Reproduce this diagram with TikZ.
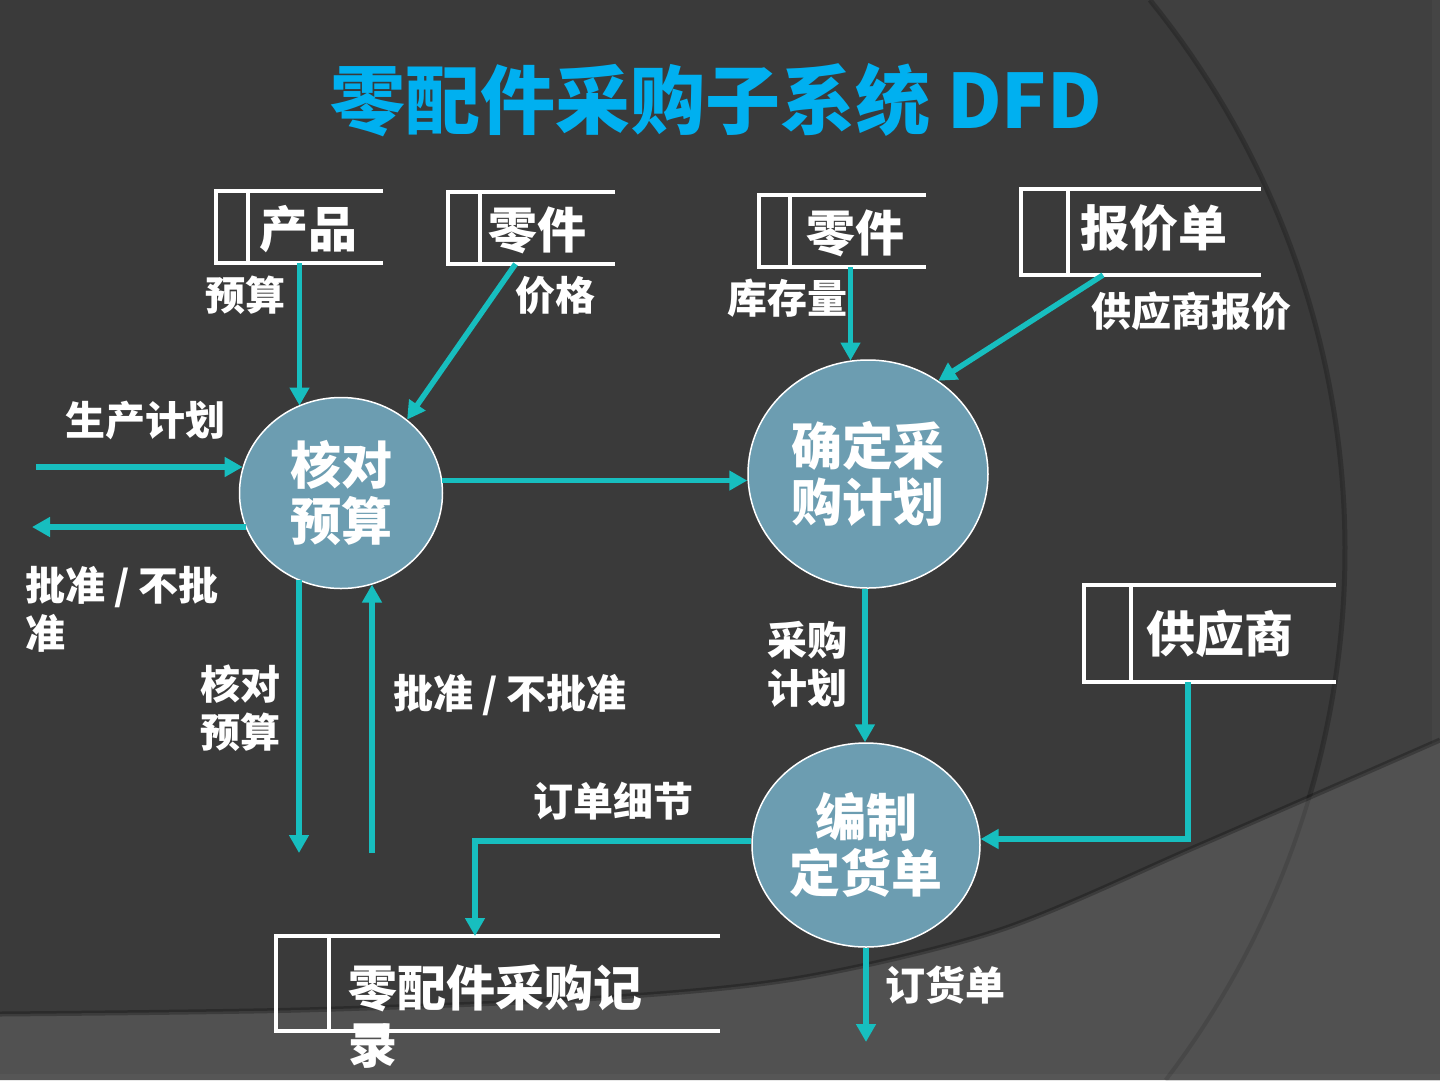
\documentclass[tikz,border=0pt]{standalone}
\usepackage{fontspec}
\setmainfont{Noto Sans CJK SC}
\usetikzlibrary{arrows.meta,shapes.geometric,calc}
\definecolor{bgc}{HTML}{3A3A3A}
\definecolor{bgright}{HTML}{404040}
\definecolor{bandc}{HTML}{515151}
\definecolor{titlec}{HTML}{00B0F0}
\definecolor{flowc}{HTML}{17BEBF}
\definecolor{procc}{HTML}{6C9DB1}
\newcommand\bandpts{(0,1014) (300,1010) (600,998) (800,978) (1000,930) (1200,845) (1440,740)}
\newcommand\dstore[6]{%
  \node[inner sep=0pt, outer sep=0pt, minimum width={#4-#2}, minimum height={#5-#3}] (#1) at ({(#2+#4)/2},{(#3+#5)/2}) {};
  \draw[storeline] (#1.north east) -- (#1.north west) -- (#1.south west) -- (#1.south east);
  \draw[storeline] ([xshift=#6]#1.north west) -- ([xshift=#6]#1.south west);}
\begin{document}
\begin{tikzpicture}[x=1pt,y=-1pt,
  flow/.style={draw=flowc, line width=5.5pt, -{Triangle[length=18pt,width=19pt]}},
  storeline/.style={draw=white, line width=3.8pt},
  proc/.style={ellipse, fill=procc, draw=white, line width=1.5pt, inner sep=0pt, text=white,
     font=\bfseries\fontsize{51}{56}\selectfont, align=center},
  lbl/.style={text=white, font=\bfseries\fontsize{40}{48}\selectfont, inner sep=0pt, align=left},
  storetext/.style={text=white, font=\bfseries\fontsize{49}{57}\selectfont, inner sep=0pt, align=left},
  titletext/.style={text=titlec, font=\bfseries\fontsize{75}{80}\selectfont, inner sep=0pt}]
\useasboundingbox (0,0) rectangle (1440,1080);
% background
\fill[bgc] (0,0) rectangle (1440,1080);
\fill[bgright] plot[domain=0:1080, samples=80, variable=\t] ({472+100*sqrt(76.2129-((\t-550)/100)^2)}, \t) -- (1440,1080) -- (1440,0) -- cycle;
\fill[white, opacity=0.03] (1432,0) rectangle (1440,1080);
\fill[bandc] plot[smooth] coordinates {\bandpts} -- (1440,1080) -- (0,1080) -- cycle;
\draw[line width=5pt, color=black, opacity=0.25] plot[smooth] coordinates {\bandpts};
\begin{scope}
  \clip (0,0) -- plot[smooth] coordinates {\bandpts} -- (1440,0) -- cycle;
  \draw[line width=5pt, color=black, opacity=0.22] plot[domain=0:1080, samples=80, variable=\t] ({472+100*sqrt(76.2129-((\t-550)/100)^2)}, \t);
\end{scope}
\begin{scope}
  \clip plot[smooth] coordinates {\bandpts} -- (1440,1080) -- (0,1080) -- cycle;
  \draw[line width=4pt, color=black, opacity=0.12] plot[domain=0:1080, samples=80, variable=\t] ({472+100*sqrt(76.2129-((\t-550)/100)^2)}, \t);
\end{scope}
\fill[white, opacity=0.03] (0,1074) rectangle (1440,1080);

% title
\node[titletext] (ttl) at (716,100) {零配件采购子系统 DFD};

% data stores
\dstore{sp}{216}{191}{383}{263}{32}
\dstore{zj}{448}{192}{615}{264}{32}
\dstore{zk}{759}{195}{926}{267}{31}
\dstore{bj}{1021}{189}{1261}{275}{47}
\dstore{gy}{1084}{585}{1336}{682}{47}
\dstore{jl}{276}{936}{720}{1031}{53}
\node[storetext, anchor=west] (tsp) at (259,229) {产品};
\node[storetext, anchor=west] (tzj) at (488,230) {零件};
\node[storetext, anchor=west] (tzk) at (806,233) {零件};
\node[storetext, anchor=west] (tbj) at (1080,228) {报价单};
\node[storetext, anchor=west] (tgy) at (1146,634) {供应商};
\node[storetext, anchor=west] (tjl) at (348,1016) {零配件采购记\\录};

% processes
\node[proc, minimum width=203, minimum height=191] (c1) at (341,493) {核对\\预算};
\node[proc, minimum width=240, minimum height=228] (c2) at (868,474) {确定采\\购计划};
\node[proc, minimum width=228, minimum height=204] (c3) at (866,845) {编制\\定货单};

% free ends
\coordinate (in1) at (36,467);
\coordinate (out1) at (32,527);
\coordinate (d1) at (299,853);
\coordinate (u1) at (372,853);
\coordinate (o3) at (866,1042);

% flows
\draw[flow] (sp.south) -- (sp.south |- c1.116);
\draw[flow] ([xshift=-16]zj.south) -- (c1.48);
\draw[flow] ([xshift=8]zk.south) -- ([xshift=8]zk.south |- c2.99);
\draw[flow] ([xshift=-38]bj.south) -- (c2.53);
\draw[flow] (in1) -- (in1 -| c1.165);
\draw[flow] (out1 -| c1.200) -- (out1);
\draw[flow] (c1.7) -- (c1.7 -| c2.west);
\draw[flow] (d1 |- c1.244) -- (d1);
\draw[flow] (u1) -- (u1 |- c1.289);
\draw[flow] ([xshift=-3]c2.south) -- ([xshift=-3]c2.south |- c3.north);
\draw[flow] ([xshift=-22]gy.south) |- (c3.3);
\draw[flow] (c3.178) -| ([xshift=-23]jl.north);
\draw[flow] (c3.south) -- (o3);

% labels
\node[lbl] (l1) at (245,295) {预算};
\node[lbl] (l2) at (555,295) {价格};
\node[lbl] (l3) at (787,298) {库存量};
\node[lbl] (l4) at (1191,311) {供应商报价};
\node[lbl] (l5) at (145,420) {生产计划};
\node[lbl, anchor=west] (l6) at (25,609) {批准 / 不批\\准};
\node[lbl] (l7) at (240,708) {核对\\预算};
\node[lbl] (l8) at (510,695) {批准 / 不批准};
\node[lbl] (l9) at (807,664) {采购\\计划};
\node[lbl] (l10) at (613,801) {订单细节};
\node[lbl] (l11) at (945,985) {订货单};
\end{tikzpicture}
\end{document}
